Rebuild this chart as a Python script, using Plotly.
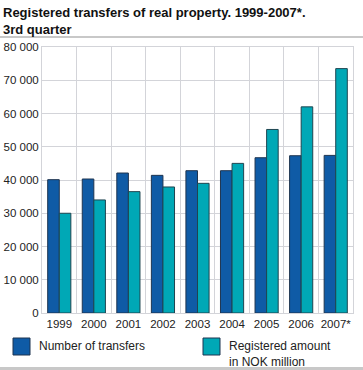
import plotly.graph_objects as go

years = ["1999", "2000", "2001", "2002", "2003", "2004", "2005", "2006", "2007*"]
transfers = [40100, 40300, 42100, 41400, 42800, 42800, 46700, 47300, 47400]
amount = [30000, 34000, 36500, 37900, 39000, 45000, 55200, 62000, 73500]
tick_vals = [0, 10000, 20000, 30000, 40000, 50000, 60000, 70000, 80000]
tick_text = ["0", "10 000", "20 000", "30 000", "40 000", "50 000", "60 000", "70 000", "80 000"]

BLUE = "#0F5BA6"
TEAL = "#00A8B6"
FONT = "Liberation Sans, Arial, sans-serif"

L, R, T, B = 42, 10, 47, 57
PW, PH = 363 - L - R, 370 - T - B

def px(x):
    return (x - L) / PW

def py(y):
    return (370 - B - y) / PH

fig = go.Figure()
fig.add_bar(x=years, y=transfers, name="Number of transfers",
            marker=dict(color=BLUE, line=dict(color="#1f3550", width=1)))
fig.add_bar(x=years, y=amount, name="Registered amount<br>in NOK million",
            marker=dict(color=TEAL, line=dict(color="#1f4550", width=1)))

fig.update_layout(
    width=363, height=370,
    margin=dict(l=L, r=R, t=T, b=B),
    paper_bgcolor="white", plot_bgcolor="white",
    font=dict(family=FONT, size=12, color="#222"),
    barmode="group", bargap=0.33, bargroupgap=0,
    showlegend=False,
)
fig.update_xaxes(type="category", tickson="boundaries", showgrid=True,
                 gridcolor="#d3d4d9", gridwidth=1, ticks="", ticklen=0,
                 tickangle=0, automargin=False,
                 showline=True, linecolor="#d3d4d9", mirror=True,
                 tickfont=dict(size=11.5, color="#222"))
fig.update_yaxes(range=[0, 80000], tickvals=tick_vals, ticktext=tick_text,
                 automargin=False,
                 showgrid=True, gridcolor="#d3d4d9", gridwidth=1,
                 showline=True, linecolor="#d3d4d9", mirror=True,
                 zeroline=False, ticks="", tickfont=dict(size=11.5, color="#222"))

# Title
fig.add_annotation(text="<b>Registered transfers of real property. 1999-2007*.<br>3rd quarter</b>",
                   xref="paper", yref="paper", x=px(1), y=py(3),
                   xanchor="left", yanchor="top", showarrow=False, align="left",
                   font=dict(family=FONT, size=13, color="#111"))
# separator lines
fig.add_shape(type="line", xref="paper", yref="paper", x0=px(0), x1=px(363),
              y0=py(37), y1=py(37), line=dict(color="#c8c8c8", width=2))
fig.add_shape(type="line", xref="paper", yref="paper", x0=px(0), x1=px(363),
              y0=py(368.5), y1=py(368.5), line=dict(color="#c8c8c8", width=3))

# Legend (manual)
def legend_item(x0px, color, text):
    fig.add_shape(type="rect", xref="paper", yref="paper",
                  x0=px(x0px), x1=px(x0px + 17),
                  y0=py(355), y1=py(338),
                  fillcolor=color, line=dict(color="#1f3550", width=1))
    fig.add_annotation(text=text, xref="paper", yref="paper",
                       x=px(x0px + 24), y=py(337),
                       xanchor="left", yanchor="top", showarrow=False, align="left",
                       font=dict(family=FONT, size=12, color="#222"))

legend_item(13, BLUE, "Number of transfers")
legend_item(203, TEAL, "Registered amount<br>in NOK million")

fig.write_html("out.html", config={"displayModeBar": False},
               post_script="document.body.style.margin='0';document.body.style.overflow='hidden';")
